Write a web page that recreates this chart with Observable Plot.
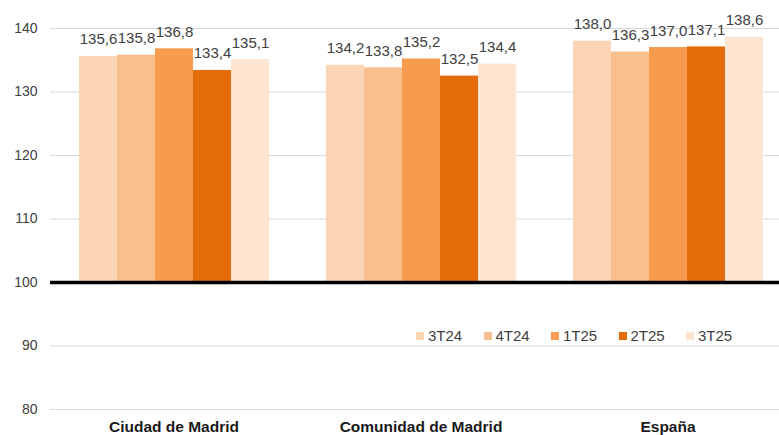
<!DOCTYPE html>
<html>
<head>
<meta charset="utf-8">
<script src="https://cdn.jsdelivr.net/npm/d3@7"></script>
<script src="https://cdn.jsdelivr.net/npm/@observablehq/plot@0.6"></script>
<style>
  html, body { margin: 0; padding: 0; background: #fff; overflow: hidden; width: 779px; height: 435px; }
  #wrap { position: relative; width: 779px; height: 435px; overflow: hidden; font-family: "Liberation Sans", Arial, sans-serif; }
  #wrap svg { max-width: none !important; }
  #legend { position: absolute; left: 416px; top: 327px; display: flex; font-size: 15px; color: #404040; }
  #legend .item { display: flex; align-items: center; width: 67.5px; }
  #legend .sw { width: 8px; height: 8px; margin-right: 4px; }
</style>
</head>
<body>
<div id="wrap"></div>
<script>
const categories = ["Ciudad de Madrid", "Comunidad de Madrid", "España"];
const series = ["3T24", "4T24", "1T25", "2T25", "3T25"];
const ciudadValues = [135.6, 135.8, 136.8, 133.4, 135.1];
const comunidadValues = [134.2, 133.8, 135.2, 132.5, 134.4];
const espanaValues = [138.0, 136.3, 137.0, 137.1, 138.6];
const yTicks = [80, 90, 100, 110, 120, 130, 140];
const baseline = 100;
const colors = ["#FCD5B4", "#FABF8F", "#F79C4E", "#E46C0A", "#FDE5D2"];

const valuesByCat = [ciudadValues, comunidadValues, espanaValues];
const data = [];
categories.forEach((c, i) => series.forEach((s, j) => data.push({cat: c, series: s, value: valuesByCat[i][j]})));
const fmt = v => v.toFixed(1).replace(".", ",");

const chart = Plot.plot({
  width: 791,
  height: 435,
  marginLeft: 49,
  marginRight: 0,
  marginTop: 28,
  marginBottom: 26,
  style: {fontFamily: "'Liberation Sans', Arial, sans-serif", fontSize: "14px", color: "#404040", background: "#fff", maxWidth: "none"},
  fx: {domain: categories, padding: 0, label: null},
  x: {domain: series, paddingInner: 0, paddingOuter: 0.75, axis: null},
  y: {domain: [80, 140], label: null},
  color: {domain: series, range: colors},
  marks: [
    Plot.ruleY(yTicks, {stroke: "#d9d9d9", strokeWidth: 1}),
    Plot.axisY(yTicks, {tickSize: 0, tickPadding: 13, fontSize: 14, fill: "#404040", label: null}),
    Plot.axisFx({anchor: "bottom", tickSize: 0, tickPadding: 11, fontSize: 15.5, fontWeight: "bold", fill: "#1a1a1a", label: null}),
    Plot.barY(data, {fx: "cat", x: "series", y1: baseline, y2: "value", fill: "series"}),
    Plot.text(data, {fx: "cat", x: "series", y: "value", text: d => fmt(d.value), lineAnchor: "bottom", dy: -12, fontSize: 15, fill: "#404040"}),
    Plot.ruleY([baseline], {stroke: "#000", strokeWidth: 3.5})
  ]
});
document.getElementById("wrap").appendChild(chart);

const legend = document.createElement("div");
legend.id = "legend";
series.forEach((s, i) => {
  const it = document.createElement("div");
  it.className = "item";
  const sw = document.createElement("span");
  sw.className = "sw";
  sw.style.background = colors[i];
  const t = document.createElement("span");
  t.textContent = s;
  it.appendChild(sw); it.appendChild(t);
  legend.appendChild(it);
});
document.getElementById("wrap").appendChild(legend);
</script>
</body>
</html>
